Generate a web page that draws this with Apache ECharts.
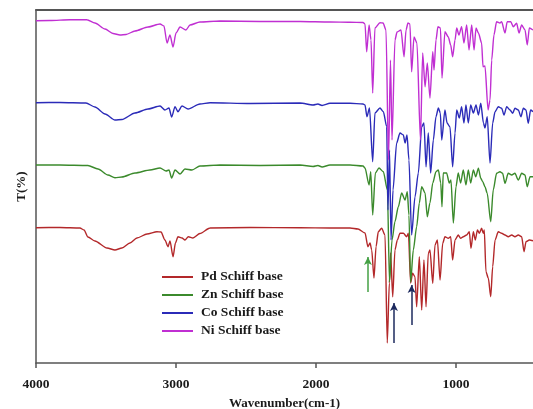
<!DOCTYPE html>
<html>
<head>
<meta charset="utf-8">
<script src="https://cdn.jsdelivr.net/npm/echarts@6/dist/echarts.min.js"></script>
<style>html,body{margin:0;padding:0;background:#fff}#c{width:533px;height:409px}</style>
</head>
<body>
<div id="c"></div>
<script>
// Series names (legend order)
const seriesNames = ['Pd Schiff base', 'Zn Schiff base', 'Co Schiff base', 'Ni Schiff base'];
// Tick labels on the wavenumber axis
const tickLabels = [4000, 3000, 2000, 1000];

// [wavenumber (cm-1), transmittance (offset, arbitrary units)]
const niData = [[4000,342.3],[3900,342.5],[3757,343.3],[3636,343.2],[3579,340],[3507,334],[3450,329.5],[3400,328],[3357,328.5],[3293,332],[3200,336],[3114,339],[3086,337],[3064,320],[3043,328],[3021,316],[3000,330],[2971,336],[2929,333],[2900,338],[2829,341],[2686,342],[2400,341.5],[2114,341.5],[1900,341],[1757,340.7],[1664,340.5],[1650,339],[1638,311.3],[1621,338],[1607,323],[1595,270],[1579,335],[1543,340.3],[1521,340],[1500,333],[1482,203],[1468,303],[1457,223],[1436,323],[1421,331],[1393,333],[1371,306.3],[1357,333],[1343,340],[1329,339],[1317,291.3],[1300,326],[1279,320],[1254,223],[1238,310],[1221,276.3],[1205,300],[1186,265],[1166,311.3],[1157,293],[1143,323],[1129,336.3],[1111,335],[1100,285],[1079,331.3],[1055,326],[1038,318],[1024,306.3],[1007,323],[995,335],[979,328],[960,336.3],[943,320],[924,338],[907,313],[888,338],[871,313],[857,335],[840,330],[817,320],[807,296.3],[793,297],[771,253],[757,263],[745,303],[729,328],[710,341.3],[686,340],[674,341.3],[650,330],[634,341.3],[609,341.3],[591,336.3],[567,339.7],[550,330],[531,338],[507,333],[491,318],[476,335],[450,333]];

const coData = [[4000,260.3],[3829,260.5],[3643,260],[3579,256],[3507,249],[3436,243],[3386,243.5],[3293,250],[3200,254],[3114,257],[3079,253],[3050,255],[3031,246],[3007,256.3],[2986,251.3],[2957,257],[2914,254],[2829,259],[2757,260.3],[2471,259.5],[2114,260],[2021,258],[1986,259],[1957,257.5],[1900,259.7],[1757,259.7],[1664,259],[1650,258],[1636,246.3],[1618,255],[1595,201.3],[1579,250],[1543,255],[1519,251.3],[1495,236.3],[1486,153],[1475,213],[1464,123],[1450,173],[1424,220],[1400,230],[1376,228],[1364,220],[1350,228],[1336,203],[1317,128],[1293,166],[1269,190],[1245,236.3],[1229,240],[1214,196.3],[1198,230],[1181,190],[1162,223],[1143,246.3],[1126,255],[1112,250],[1102,223],[1079,253],[1064,240],[1043,236],[1024,196.3],[1007,230],[995,253],[976,245],[960,256.3],[943,240],[929,258],[912,240],[895,258],[876,250],[857,258],[840,248],[823,259.7],[804,240],[793,235],[777,246.3],[757,200],[738,240],[721,251.3],[698,256.3],[674,254.7],[657,248],[638,256.3],[614,253],[595,249.7],[579,254.7],[555,253],[536,246.3],[519,254.7],[500,253],[484,239.7],[467,253],[450,251.3]];

const znData = [[4000,198],[3829,198],[3629,197.5],[3557,194],[3486,188],[3436,185.3],[3386,186],[3293,190],[3186,193],[3114,195],[3071,192],[3050,193],[3031,185],[3007,193],[2971,189],[2936,194],[2886,193],[2829,197],[2686,198],[2400,197.5],[2114,198],[2021,196.5],[1986,197.5],[1957,196],[1900,198],[1757,198],[1664,197],[1650,195],[1621,178],[1609,191.3],[1595,148],[1576,190],[1550,195],[1519,191.3],[1490,173],[1475,81],[1457,123],[1436,141.3],[1412,156.3],[1388,170],[1364,163],[1348,171.3],[1336,148],[1324,81],[1305,113],[1281,136.3],[1262,160],[1245,176.3],[1221,170],[1205,146.3],[1186,160],[1166,180],[1143,191.3],[1126,193],[1109,180],[1100,156.3],[1091,190],[1067,190],[1048,180],[1036,183],[1019,140],[1000,176.3],[984,190],[967,180],[948,193],[929,178],[912,193],[895,180],[876,193],[859,186.3],[840,194.7],[823,184.7],[809,181.3],[793,176.3],[777,169.7],[752,141.3],[734,173],[710,189.7],[686,191.3],[667,189.7],[650,179.7],[627,189.7],[602,188],[579,189.7],[555,183],[531,189.7],[507,188],[491,176.3],[471,186.3],[450,186.3]];

const pdData = [[4000,135.3],[3829,135.5],[3686,135],[3657,133],[3629,126],[3579,122],[3493,115],[3436,113],[3386,115],[3329,120],[3279,125],[3207,129],[3136,131.3],[3107,131],[3079,123],[3057,116.3],[3043,122],[3021,106.3],[3004,120],[2986,126.3],[2957,125],[2936,123],[2912,126.3],[2879,125],[2829,129.5],[2757,135],[2471,135.5],[2114,135.3],[1900,135],[1757,135],[1700,134],[1650,130],[1629,116.3],[1614,120],[1602,113],[1586,85],[1571,116.3],[1555,131.3],[1531,134.7],[1507,128],[1491,20],[1476,80],[1467,110],[1452,66.3],[1436,113],[1419,123],[1400,129.7],[1376,129.7],[1352,126.3],[1340,129.7],[1324,80],[1310,89.7],[1293,86.3],[1281,56.3],[1262,106.3],[1245,53],[1229,103],[1214,56.3],[1198,109.7],[1186,113],[1166,79.7],[1150,118],[1133,123],[1114,83],[1095,119.7],[1079,126.3],[1055,124.7],[1038,126.3],[1024,103],[1007,123],[984,128],[967,124.7],[948,126.3],[924,128],[905,131.3],[893,114.7],[876,131.3],[862,123],[847,133],[833,129.7],[817,134.7],[805,129.7],[798,133],[786,91.3],[769,84.7],[752,66.3],[738,96.3],[721,123],[698,131.3],[674,129.7],[650,128],[627,126.3],[602,128],[579,126.3],[555,128],[531,126.3],[514,111.3],[500,121.3],[476,123],[450,122.3]];

// Annotation arrows: [wavenumber, tail value, head value]
const greenArrow = [1629, 71, 106];
const navyArrows = [[1443, 20, 60], [1317, 38, 78]];

const colors = ['#b3282a', '#3b8a2c', '#2b2bb8', '#c02fd2'];
const datasets = [pdData, znData, coData, niData];

const fontBase = {fontFamily: 'Liberation Serif', fontWeight: 'bold', color: '#1a1a1a'};

const arrowLines = [
  [{coord: [greenArrow[0], greenArrow[1]], lineStyle: {color: '#44a044'}}, {coord: [greenArrow[0], greenArrow[2]]}]
].concat(navyArrows.map(a => [{coord: [a[0], a[1]], lineStyle: {color: '#1d2a5e'}}, {coord: [a[0], a[2]]}]));

const series = seriesNames.map((n, i) => ({
  name: n,
  type: 'line',
  data: datasets[i],
  showSymbol: false,
  symbol: 'none',
  smooth: 0.25,
  smoothMonotone: 'x',
  lineStyle: {color: colors[i], width: 1.4},
  itemStyle: {color: colors[i]},
  z: 2 + i
}));
series[0].markLine = {
  silent: true,
  symbol: ['none', 'arrow'],
  symbolSize: [6, 8],
  label: {show: false},
  lineStyle: {width: 1.5, type: 'solid'},
  data: arrowLines
};

const chart = echarts.init(document.getElementById('c'), null, {renderer: 'canvas'});
chart.setOption({
  animation: false,
  backgroundColor: '#fff',
  grid: {left: 36, top: 10, right: 0, bottom: 46, containLabel: false, outerBoundsMode: 'none'},
  legend: {
    data: seriesNames,
    orient: 'vertical',
    left: 162,
    top: 270,
    padding: 0,
    icon: 'rect',
    itemWidth: 31,
    itemHeight: 2,
    itemGap: 4,
    textStyle: Object.assign({fontSize: 13.5, padding: [0, 0, 0, 3]}, fontBase)
  },
  xAxis: [{
    type: 'value',
    inverse: true,
    min: 450,
    max: 4000,
    name: 'Wavenumber(cm-1)',
    nameLocation: 'middle',
    nameGap: 34,
    nameTextStyle: Object.assign({fontSize: 13}, fontBase),
    axisLine: {show: true, lineStyle: {color: '#555', width: 1.5}},
    axisTick: {show: true, length: 5, customValues: tickLabels, lineStyle: {color: '#555', width: 1.5}},
    axisLabel: Object.assign({fontSize: 13.5, margin: 15, customValues: tickLabels, formatter: v => String(v)}, fontBase),
    splitLine: {show: false}
  }, {
    type: 'value',
    inverse: true,
    min: 450,
    max: 4000,
    position: 'top',
    axisLine: {show: true, lineStyle: {color: '#555', width: 2}},
    axisTick: {show: false},
    axisLabel: {show: false},
    splitLine: {show: false}
  }],
  yAxis: {
    type: 'value',
    min: 0,
    max: 353,
    name: 'T(%)',
    nameLocation: 'middle',
    nameGap: 8,
    nameTextStyle: Object.assign({fontSize: 13}, fontBase),
    axisLine: {show: true, lineStyle: {color: '#555', width: 1.5}},
    axisTick: {show: false},
    axisLabel: {show: false},
    splitLine: {show: false}
  },
  series: series
});
</script>
</body>
</html>
